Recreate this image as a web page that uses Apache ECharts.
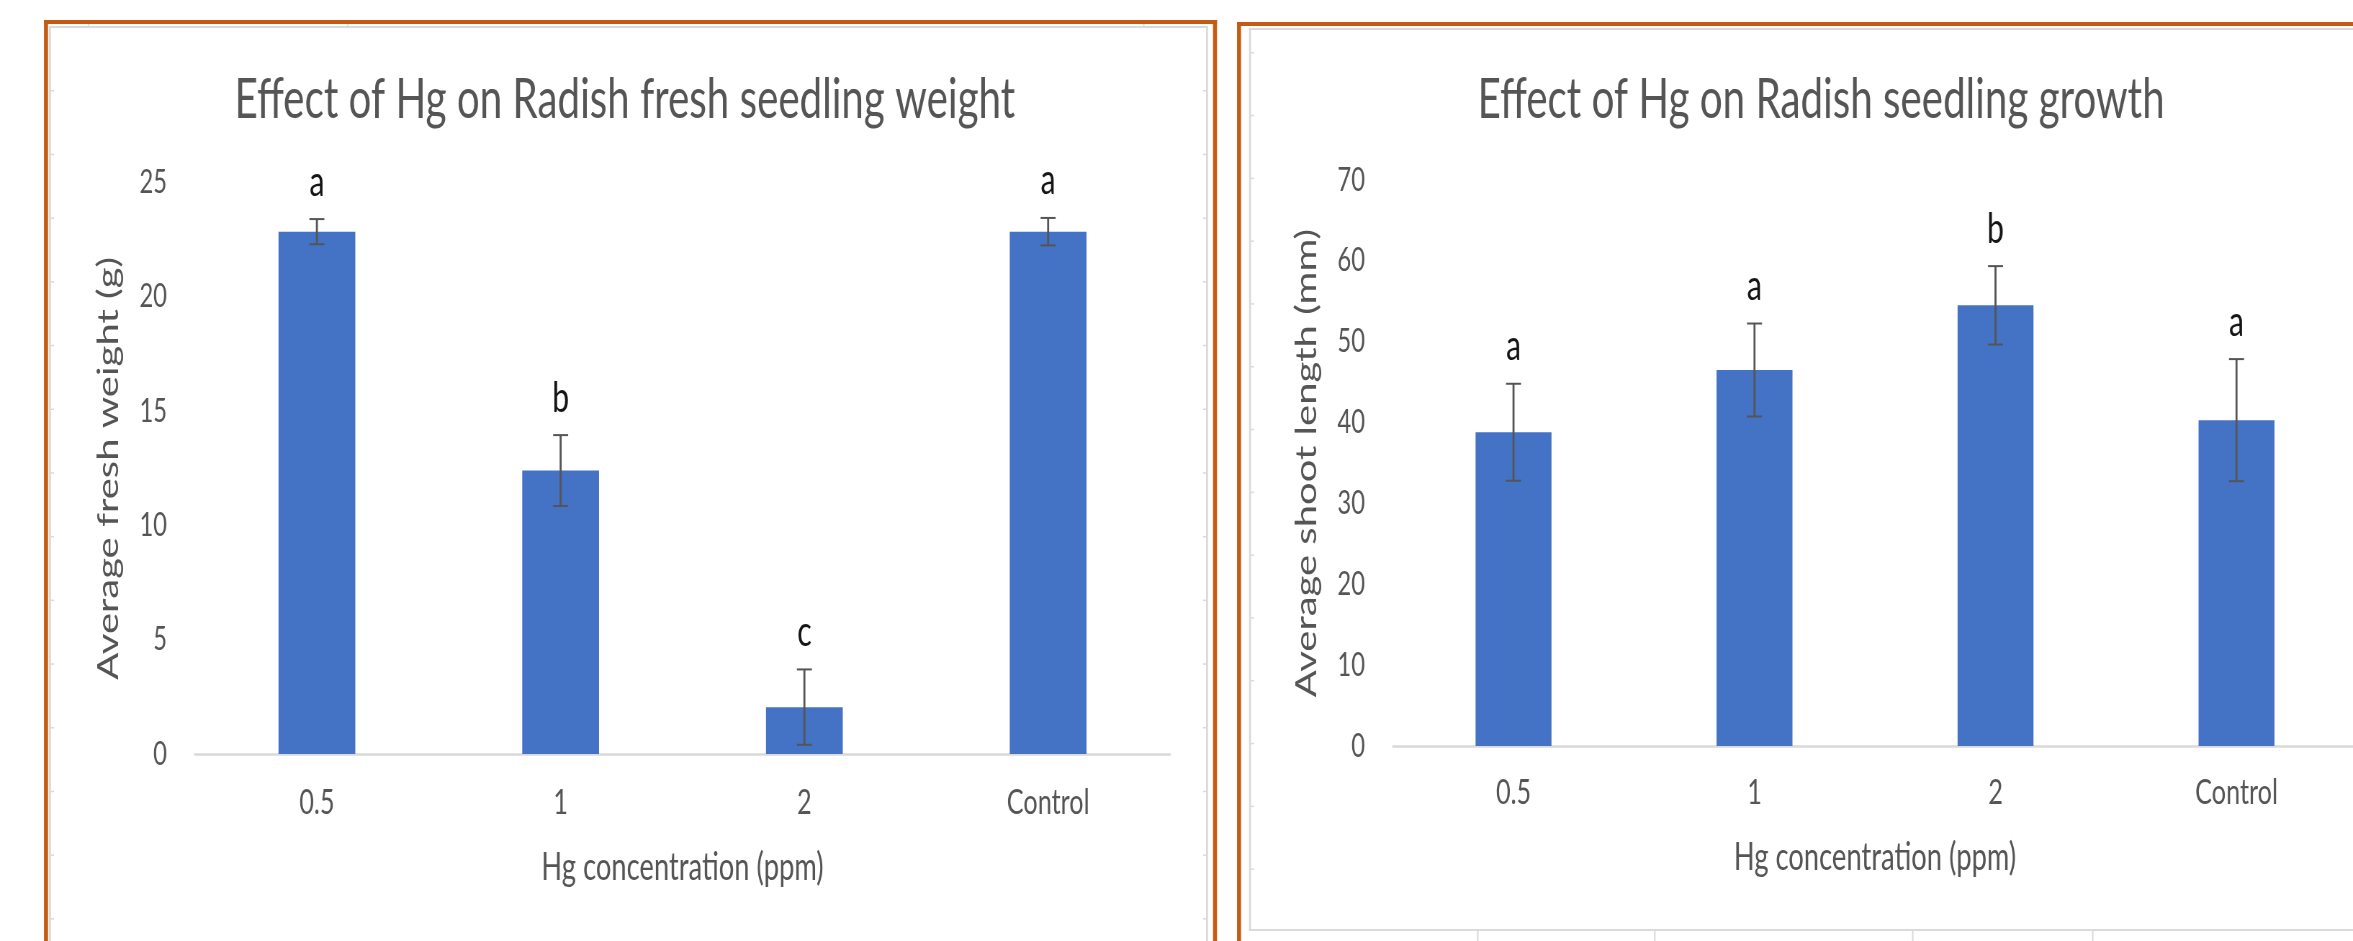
<!DOCTYPE html>
<html><head><meta charset="utf-8">
<script src="https://cdn.jsdelivr.net/npm/echarts@6/dist/echarts.min.js"></script>
<style>
html,body{margin:0;padding:0;background:#fff;overflow:hidden;width:2353px;height:941px;}
#chart{position:absolute;left:0;top:0;height:941px;transform-origin:0 0;}
</style>
</head><body><div id="chart"></div>
<script>
// ---- data ----
const categories = ['0.5', '1', '2', 'Control'];
const weightMean = [22.85, 12.4, 2.05, 22.85];
const weightErr = [0.55, 1.55, 1.65, 0.6];
const weightLetters = ['a', 'b', 'c', 'a'];
const shootMean = [38.8, 46.5, 54.5, 40.3];
const shootErr = [6.0, 5.75, 4.85, 7.55];
const shootLetters = ['a', 'a', 'b', 'a'];
const weightAxis = [0, 25, 5];   // min, max, interval
const shootAxis = [0, 70, 10];
const titles = ['Effect of Hg on Radish fresh seedling weight', 'Effect of Hg on Radish seedling growth'];
const xName = 'Hg concentration (ppm)';
const yNames = ['Average fresh weight (g)', 'Average shoot length (mm)'];

// ---- the reference picture is squeezed horizontally; reproduce that ----
const K = 0.72;
const W = 2353 / K;
const fx = v => v / K;
const el = document.getElementById('chart');
el.style.width = W + 'px';
el.style.transform = 'scaleX(' + K + ')';
const chart = echarts.init(el, null, {renderer: 'canvas'});
const FONT = 'Lato';
const GREY = '#555555';
const BAR = '#4472C4';

function errSeries(idx, mean, err, letters) {
  return {
    type: 'custom', xAxisIndex: idx, yAxisIndex: idx, z: 5,
    data: mean.map((m, i) => [i, m - err[i], m + err[i]]),
    encode: {x: 0, y: [1, 2]},
    renderItem: function (params, api) {
      const i = api.value(0);
      const lo = api.coord([i, api.value(1)]);
      const hi = api.coord([i, api.value(2)]);
      const hw = fx(7.5);
      const st = {stroke: '#555555', lineWidth: 2};
      return {type: 'group', children: [
        {type: 'line', shape: {x1: hi[0], y1: hi[1], x2: lo[0], y2: lo[1]}, style: {stroke: '#555555', lineWidth: 2 / K}},
        {type: 'line', shape: {x1: hi[0] - hw, y1: hi[1], x2: hi[0] + hw, y2: hi[1]}, style: st},
        {type: 'line', shape: {x1: lo[0] - hw, y1: lo[1], x2: lo[0] + hw, y2: lo[1]}, style: st},
        {type: 'text', x: hi[0], y: hi[1] - 16, style: {text: letters[params.dataIndex], fill: '#151515',
          fontFamily: FONT, fontSize: 42, align: 'center', verticalAlign: 'bottom'}}
      ]};
    }
  };
}

function xAxisCfg(idx, labelMargin, nameGap) {
  return {
    type: 'category', gridIndex: idx, data: categories,
    axisLine: {show: true, lineStyle: {color: '#D9D9D9', width: 2.5}},
    axisTick: {show: false},
    axisLabel: {color: GREY, fontFamily: FONT, fontSize: 35, margin: labelMargin},
    name: xName, nameLocation: 'middle', nameGap: nameGap,
    nameTextStyle: {color: GREY, fontFamily: FONT, fontSize: 38}
  };
}
function yAxisCfg(idx, ax, name) {
  return {
    type: 'value', gridIndex: idx, min: ax[0], max: ax[1], interval: ax[2],
    splitLine: {show: false}, axisLine: {show: false}, axisTick: {show: false},
    axisLabel: {color: GREY, fontFamily: FONT, fontSize: 33, margin: fx(28)},
    name: name, nameLocation: 'middle', nameGap: fx(72),
    nameTextStyle: {color: GREY, fontFamily: FONT, fontSize: 40}
  };
}

// decorative frame (orange chart borders + faint sheet grid lines)
const deco = [];
function rect(x, y, w, h, fill) {
  deco.push({type: 'rect', silent: true, z: -10, shape: {x: fx(x), y: y, width: fx(w), height: h}, style: {fill: fill}});
}
const ORANGE = '#C55A11';
const LG = '#DADADA';
// left panel
rect(50, 26, 1157, 2, LG);
rect(49, 26, 2, 915, LG);
rect(1206, 26, 2, 915, LG);
for (let r = 0; r < 14; r++) { const y = 90 + r * 63.7; rect(51, y, 3, 1.5, LG); rect(1203, y, 3, 1.5, LG); }
[88, 347, 1143].forEach(x => rect(x, 24, 1.5, 3, LG));
rect(44, 20, 1173, 4, ORANGE);
rect(44, 20, 4, 921, ORANGE);
rect(1213, 20, 4, 921, ORANGE);
// right panel
rect(1249, 28, 1104, 2, LG);
rect(1249, 28, 2, 903, LG);
rect(1249, 929, 1104, 2, LG);
for (let r = 0; r < 14; r++) { const y = 52 + r * 62.8; if (y < 925) rect(1251, y, 3, 1.5, LG); }
[1477, 1654, 1912, 2092].forEach(x => rect(x, 930, 1.5, 11, LG));
rect(1237, 22, 1116, 4, ORANGE);
rect(1237, 22, 4, 919, ORANGE);

chart.setOption({
  animation: false,
  backgroundColor: '#ffffff',
  title: [
    {text: titles[0], left: fx(231), top: 67, textStyle: {color: GREY, fontFamily: FONT, fontSize: 56, fontWeight: 'normal'}},
    {text: titles[1], left: fx(1474), top: 67, textStyle: {color: GREY, fontFamily: FONT, fontSize: 56, fontWeight: 'normal'}}
  ],
  grid: [
    {left: fx(195), top: 182.5, width: fx(975), height: 571.5, outerBoundsMode: 'none', containLabel: false},
    {left: fx(1393), top: 180, width: fx(964), height: 566, outerBoundsMode: 'none', containLabel: false}
  ],
  xAxis: [xAxisCfg(0, 31, 95), xAxisCfg(1, 29, 93)],
  yAxis: [yAxisCfg(0, weightAxis, yNames[0]), yAxisCfg(1, shootAxis, yNames[1])],
  graphic: deco,
  series: [
    {type: 'bar', xAxisIndex: 0, yAxisIndex: 0, data: weightMean, barWidth: '31.5%', itemStyle: {color: BAR}},
    {type: 'bar', xAxisIndex: 1, yAxisIndex: 1, data: shootMean, barWidth: '31.5%', itemStyle: {color: BAR}},
    errSeries(0, weightMean, weightErr, weightLetters),
    errSeries(1, shootMean, shootErr, shootLetters)
  ]
});
</script>
</body></html>
